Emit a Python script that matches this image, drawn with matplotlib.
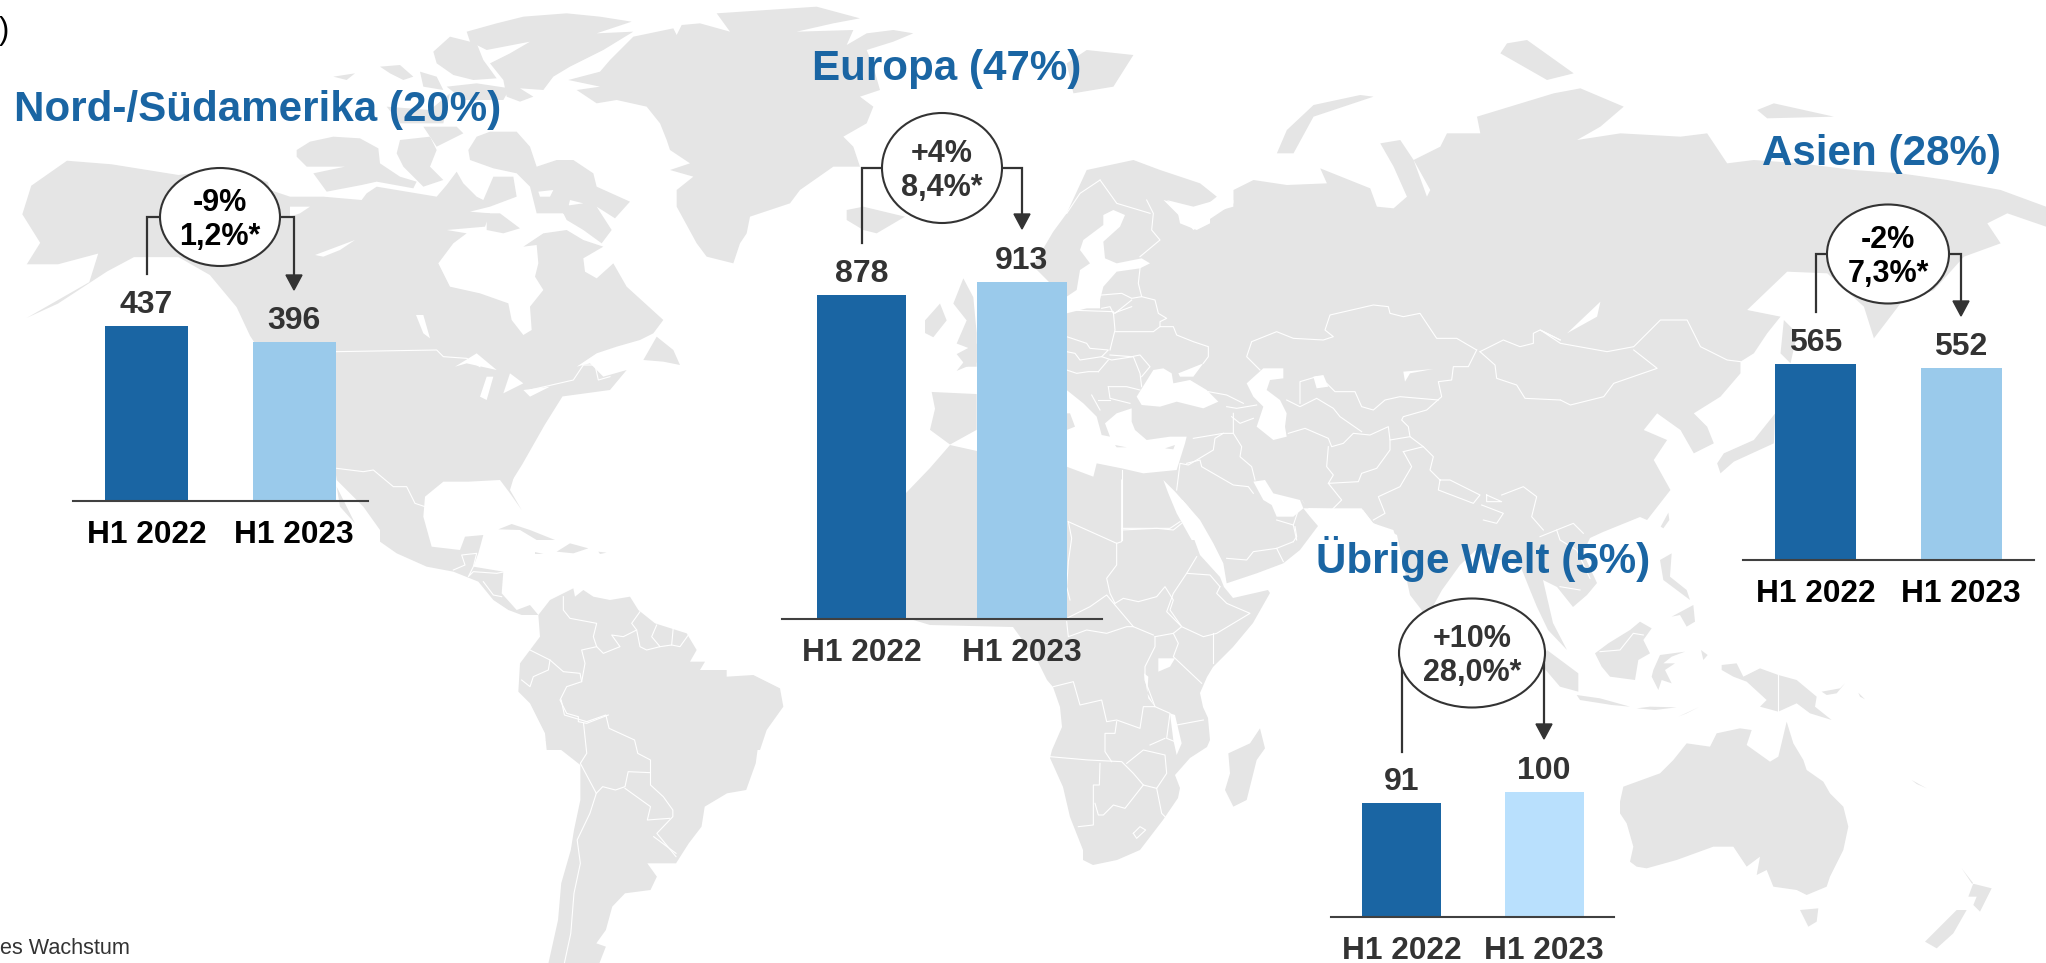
#!/usr/bin/env python3
"""Regional sales H1 2022 vs H1 2023 as four small bar charts on a world map."""
import matplotlib
matplotlib.use('Agg')
import matplotlib.pyplot as plt
from matplotlib.patches import Ellipse, Polygon

plt.rcParams['font.family'] = ['Liberation Sans', 'DejaVu Sans']

W, H = 2046, 963

# chart data
regions = ['Nord-/Südamerika (20%)', 'Europa (47%)', 'Übrige Welt (5%)', 'Asien (28%)']
periods = ['H1 2022', 'H1 2023']
values_2022 = [437, 878, 91, 565]
values_2023 = [396, 913, 100, 552]
growth = ['-9%', '+4%', '+10%', '-2%']
organic = ['1,2%*', '8,4%*', '28,0%*', '7,3%*']

# panel layout in pixels
base_y = [501, 619, 917, 560]
base_x0 = [73, 782, 1331, 1743]
base_x1 = [368, 1102, 1614, 2034]
centre_a = [146.5, 861.5, 1401.5, 1815.5]
centre_b = [294, 1022, 1544, 1961]
bar_px = [83, 89.5, 79, 81]
px_per_unit = [0.4005, 0.369, 1.253, 0.347]
title_xy = [(14, 121), (812, 80), (1316, 573), (1762, 165)]
oval_xy = [(220, 217), (942, 168), (1472, 653), (1888, 254)]
oval_wh = [(120, 98), (120, 110), (146, 109), (122, 99)]
line_start = [274, 243, 752, 312]
line_top = [217, 168, 653, 254]
arrow_tip = [290, 229, 739, 316]
light_col = ['#9ACAEB', '#9ACAEB', '#B9E0FD', '#9ACAEB']
dark_text = ['black', '#333333', '#333333', 'black']

BLUE = '#1A65A3'
GREY = '#333333'
MAP = '#E5E5E5'

# map outlines, traced by eye; each crop is (x origin, y origin, x scale, y scale)
CROPS = {
    'a': (290, 0, 3, 3),
    'b': (1060, 200, 3, 3),
    'z1': (0, 0, 2.24, 2.8),
    'z2': (760, 30, 3, 2.376),
    'z5': (0, 600, 1.568, 3),
    'z6': (1000, 0, 1.499, 3),
    'z7': (1000, 480, 3, 3),
    'z8': (1540, 500, 3, 3),
    'z9': (500, 0, 3, 3),
    'z10': (330, 450, 3, 3),
}

def crop(name, pts):
    ox, oy, sx, sy = CROPS[name]
    return [(ox + x / sx, oy + y / sy) for x, y in pts]

NORTH_AMERICA = crop('z1', [
    (50, 600), (70, 520), (150, 450), (250, 460), (400, 490), (520, 470), (600, 510)]) + crop('a', [
    (-60, 570), (0, 590), (100, 590), (215, 600), (230, 580), (260, 560), (380, 580), (440, 590), (470, 555), (500, 515),
    (520, 550), (560, 590), (580, 600), (610, 530), (670, 530), (680, 590), (600, 620), (540, 635), (600, 640), (585, 680),
    (470, 690), (530, 700), (490, 730), (445, 790), (480, 860), (570, 880), (655, 910), (665, 960), (700, 1005), (725, 990),
    (720, 920), (760, 870), (735, 830), (745, 790), (740, 735), (700, 740), (760, 700), (830, 690), (880, 720), (940, 740),
    (880, 775), (885, 815), (920, 835), (970, 790), (1010, 860), (1120, 960), (1090, 1000), (1050, 1020), (980, 1040),
    (920, 1060), (860, 1100), (900, 1090), (940, 1130), (1010, 1110), (960, 1170)]) + crop('z1', [
    (1260, 1110), (1220, 1190), (1170, 1300), (1150, 1340), (900, 1340), (750, 1310), (560, 940), (530, 860), (470, 770),
    (400, 720), (300, 720), (240, 760), (130, 850), (60, 890), (200, 790), (220, 710), (130, 740), (60, 740), (90, 680)])
CENTRAL_AMERICA = crop('z10', [
    (555, 70), (540, 120), (575, 180), (540, 130), (510, 90), (415, 95), (340, 95), (285, 140), (280, 200),
    (305, 290), (390, 300), (405, 260), (460, 255), (445, 310), (430, 350), (520, 365), (515, 430), (560, 480),
    (600, 465), (625, 495), (575, 495), (535, 480), (490, 450), (445, 395), (370, 365), (290, 350), (200, 310),
    (150, 275), (150, 240), (100, 170), (20, 90), (0, -60), (560, -60)])
BAJA = crop('z10', [(20, 110), (60, 190), (75, 220), (30, 170)])
SOUTH_AMERICA_N = crop('z10', [
    (625, 495), (660, 450), (730, 415), (735, 440), (760, 420), (790, 440), (840, 450), (900, 440), (925, 480),
    (975, 520), (1070, 550), (1100, 600), (1080, 635), (1125, 635), (1110, 660), (1190, 660), (1190, 680),
    (1270, 675), (1350, 715), (1360, 770), (1310, 840), (1290, 900), (650, 900), (645, 850), (600, 760), (565, 725),
    (570, 640), (600, 600), (630, 560)])
SOUTH_AMERICA_S = crop('z5', [
    (855, 420), (880, 450), (910, 495), (910, 600), (900, 690), (895, 750), (880, 850), (875, 960), (860, 1089),
    (940, 1089), (950, 1040), (935, 1030), (950, 990), (960, 920), (980, 880), (1020, 870), (1030, 830), (1015, 790),
    (1060, 790), (1080, 730), (1100, 680), (1105, 620), (1140, 580), (1170, 570), (1185, 490), (1190, 420)])
GREENLAND = crop('z9', [
    (205, 240), (300, 215), (330, 180), (400, 110), (520, 85), (530, 105), (545, 75), (600, 70), (690, 95), (650, 40),
    (800, 30), (950, 20), (1080, 55), (1000, 70), (890, 95), (1060, 90), (1040, 135), (1100, 100), (1180, 90),
    (1240, 100), (1180, 125), (1100, 150), (1120, 200), (1140, 270), (1080, 290), (1120, 320), (1100, 370), (1030, 410),
    (1060, 440), (1080, 500), (1000, 500), (900, 570), (870, 610), (750, 650), (740, 700), (720, 730), (700, 790),
    (620, 770), (590, 730), (530, 620), (530, 570), (580, 530), (510, 510), (570, 490), (510, 450), (500, 420),
    (480, 370), (440, 320), (350, 300), (290, 310), (230, 270), (300, 260)])
AFRICA = [
    (906, 493), (930, 468), (950, 445), (977, 451), (1067, 460), (1163, 460), (1170, 493), (1190, 528), (1200, 555),
    (1220, 577), (1224, 587), (1233, 598), (1268, 590),
    (1270, 593), (1253, 623), (1233, 647), (1213, 667), (1207, 677), (1200, 693), (1203, 707), (1208, 718), (1210, 740),
    (1207, 747), (1190, 758), (1175, 775), (1180, 788), (1178, 798), (1163, 820), (1140, 850), (1117, 860), (1093, 865),
    (1083, 860), (1083, 850), (1070, 817), (1063, 787), (1050, 758), (1052, 750), (1062, 727), (1060, 707), (1053, 687),
    (1047, 680), (1037, 660), (1013, 627), (930, 625), (880, 610), (860, 590), (820, 560), (830, 500), (870, 470)]
ARABIA = crop('z7', [
    (680, 310), (670, 250), (640, 190), (600, 120), (530, 40), (515, -20), (760, -20), (905, 60), (960, 130), (900, 210),
    (850, 250), (770, 280)])
EURASIA = crop('z6', [
    (100, 640), (130, 510), (200, 480), (240, 510), (300, 550), (325, 590), (300, 630), (245, 600), (270, 650), (290, 690),
    (320, 650), (350, 610), (350, 570), (380, 540), (430, 555), (490, 550), (480, 505), (555, 565), (565, 620), (590, 625),
    (610, 590), (590, 500), (570, 430), (600, 420), (620, 480), (640, 590), (645, 570), (620, 480), (660, 440), (670, 400),
    (720, 400), (715, 350), (830, 280), (870, 265), (935, 320), (900, 380), (865, 420), (930, 400), (1020, 410), (1060, 400),
    (1090, 490), (1130, 480), (1200, 490), (1280, 510), (1350, 520), (1420, 540), (1500, 570), (1568, 620), (1568, 680),
    (1510, 640), (1480, 670), (1500, 730), (1445, 770), (1400, 870), (1350, 910), (1310, 1015), (1295, 920), (1240, 820),
    (1180, 815), (1120, 930), (1170, 950), (1150, 1000), (1130, 1060), (1110, 1085), (1110, 1120), (1080, 1190), (1040, 1240),
    (1060, 1280), (1070, 1330), (1040, 1360), (1020, 1290), (985, 1240), (965, 1290), (1000, 1320), (980, 1380), (1005, 1470),
    (970, 1560)]) + [
    (1640, 517), (1603, 532), (1590, 538), (1583, 553), (1597, 583), (1587, 595), (1573, 607), (1557, 587), (1543, 580),
    (1553, 623), (1567, 650), (1548, 630), (1537, 607), (1530, 590), (1520, 565), (1500, 560), (1478, 548), (1460, 565),
    (1442, 590), (1427, 617), (1410, 595), (1397, 535), (1373, 523), (1363, 510), (1307, 508), (1302, 500), (1180, 500),
    (1067, 470), (1067, 293), (1050, 283), (1033, 266), (1053, 232)]
AUSTRALIA = crop('z8', [
    (240, 905), (250, 860), (360, 820), (400, 780), (440, 730), (510, 740), (530, 700), (600, 685), (635, 690), (620, 735),
    (690, 785), (715, 770), (740, 665), (760, 730), (790, 780), (800, 810), (850, 845), (870, 880), (910, 920), (925, 980),
    (910, 1050), (870, 1130), (860, 1160), (800, 1185), (770, 1170), (700, 1160), (680, 1110), (650, 1125), (660, 1070),
    (620, 1100), (580, 1040), (520, 1040), (410, 1080), (320, 1105), (290, 1100), (270, 1085), (280, 1040), (260, 970),
    (240, 940)])
MAINLAND = [NORTH_AMERICA, CENTRAL_AMERICA, BAJA, SOUTH_AMERICA_N, SOUTH_AMERICA_S, GREENLAND, AFRICA, ARABIA, EURASIA, AUSTRALIA]

WATER = [
    crop('a', [(495, 1100), (560, 1060), (620, 1110), (530, 1090)]),
    crop('a', [(570, 1190), (590, 1130), (610, 1130), (590, 1200)]),
    crop('a', [(660, 1120), (700, 1150), (640, 1180)]),
    crop('a', [(700, 1170), (780, 1160), (720, 1190)]),
    crop('a', [(75, 765), (195, 720), (150, 750), (100, 770)]),
    crop('a', [(378, 945), (400, 945), (420, 1015), (400, 1000)]),
    crop('a', [(0, 620), (60, 620), (30, 640), (0, 650)]),
    crop('b', [(20, 340), (20, 290), (50, 270), (60, 210), (90, 190), (60, 150), (70, 120), (130, 75), (130, 45), (160, 30),
               (195, 45), (180, 80), (130, 125), (135, 175), (170, 190), (245, 175), (270, 190), (240, 205), (170, 215), (130, 260),
               (120, 300), (120, 325), (80, 325)]),
    crop('b', [(320, 0), (400, 20), (470, 0), (520, 0), (520, 20), (450, 40), (450, 70), (410, 90), (360, 70), (350, 20)]),
    crop('b', [(230, 590), (280, 510), (310, 505), (335, 520), (340, 550), (390, 540), (440, 570), (475, 605), (430, 625), (350, 605),
               (300, 620), (245, 615)]),
    crop('b', [(355, 520), (430, 490), (400, 530), (360, 530)]),
    crop('b', [(560, 550), (610, 505), (670, 505), (670, 535), (630, 540), (620, 570), (660, 600), (680, 640), (675, 680), (680, 710),
               (640, 720), (590, 680), (610, 620), (580, 590)]),
    crop('b', [(760, 530), (790, 525), (805, 560), (770, 565)]),
    crop('b', [(1030, 515), (1120, 507), (1050, 520), (1035, 545)]),
    crop('b', [(20, 570), (70, 610), (110, 650), (125, 705), (150, 710), (135, 670), (170, 640), (215, 625), (215, 665), (225, 690),
               (260, 720), (330, 710), (380, 710), (375, 730), (350, 810), (250, 820), (185, 805), (110, 790), (100, 830), (20, 800),
               (20, 690), (45, 680), (30, 640), (20, 640)]),
    crop('b', [(310, 840), (345, 875), (385, 920), (425, 980), (435, 1020), (395, 1020), (350, 940), (325, 880)]),
    crop('b', [(580, 845), (615, 840), (640, 880), (720, 900), (730, 925), (700, 950), (650, 950), (635, 915), (610, 900)]),
    crop('b', [(730, 925), (905, 925), (940, 970), (1000, 990), (1010, 1020), (790, 1020), (780, 985), (750, 950)]),
    crop('z6', [(850, 1000), (900, 905), (895, 950)]),
    crop('z7', [(475, 535), (525, 535), (510, 560), (475, 575)]),
    crop('z7', [(432, 580), (445, 590), (442, 640), (465, 680), (445, 655)]),
    crop('z7', [(510, 700), (525, 705), (545, 790), (530, 825), (520, 780)]),
]

ISLANDS = [
    crop('a', [(20, 450), (60, 425), (130, 410), (210, 415), (265, 445), (270, 490), (330, 530), (380, 545), (370, 565), (260, 545),
               (215, 555), (110, 575), (70, 520), (165, 500), (50, 500), (20, 470)]),
    crop('a', [(330, 420), (420, 410), (440, 450), (420, 500), (460, 540), (400, 560), (340, 500), (320, 460)]),
    crop('a', [(530, 95), (620, 70), (700, 50), (830, 40), (930, 50), (1025, 65), (920, 100), (1030, 95), (940, 150), (840, 200),
               (790, 230), (760, 270), (690, 265), (730, 290), (690, 305), (650, 290), (640, 240), (600, 190), (660, 160), (720, 125),
               (590, 150), (540, 125)]),
    crop('a', [(430, 155), (480, 110), (560, 130), (580, 180), (620, 235), (550, 240), (490, 225), (440, 190)]),
    crop('a', [(270, 200), (330, 195), (370, 230), (340, 240), (300, 220)]),
    crop('a', [(390, 215), (440, 230), (460, 270), (400, 260)]),
    crop('a', [(130, 230), (195, 220), (170, 240)]),
    crop('a', [(470, 260), (560, 250), (660, 265), (640, 300), (520, 300)]),
    crop('a', [(290, 320), (420, 330), (480, 280), (460, 370), (330, 370)]),
    crop('a', [(400, 380), (500, 380), (520, 400), (440, 440)]),
    crop('a', [(535, 450), (560, 410), (600, 395), (680, 395), (720, 440), (740, 500), (800, 480), (850, 480), (910, 520), (920, 560),
               (1020, 605), (975, 655), (920, 620), (965, 690), (935, 730), (880, 690), (830, 660), (810, 620), (880, 610), (840, 600),
               (830, 640), (740, 640), (720, 560), (680, 520), (610, 505), (540, 480)]),
    crop('a', [(590, 640), (630, 640), (690, 685), (640, 700), (590, 690)]),
    crop('a', [(1060, 1080), (1100, 1010), (1150, 1050), (1170, 1095), (1120, 1085)]),
    crop('z10', [(505, 238), (545, 222), (600, 240), (675, 270), (620, 270), (570, 240)]),
    crop('z10', [(680, 305), (720, 280), (775, 295), (730, 310)]),
    crop('z10', [(615, 306), (640, 312), (615, 312)]),
    crop('z10', [(805, 305), (830, 308), (810, 312)]),
    crop('z9', [(1040, 630), (1090, 620), (1215, 650), (1130, 700), (1090, 690), (1040, 660)]),
    crop('z2', [(610, 590), (640, 635), (650, 720), (650, 790), (590, 810), (640, 760), (590, 745), (620, 690), (580, 650)]),
    crop('z2', [(495, 690), (540, 650), (560, 690), (520, 730), (495, 720)]),
    crop('z2', [(515, 860), (650, 865), (650, 950), (570, 985), (510, 950), (525, 900)]),
    crop('z2', [(590, 770), (650, 745), (650, 800), (620, 800)]),
    crop('z6', [(130, 150), (200, 165), (170, 260), (110, 280), (100, 190)]),
    crop('z6', [(415, 460), (440, 460), (470, 350), (560, 290), (540, 285), (470, 315), (430, 390)]),
    crop('z6', [(760, 130), (790, 120), (860, 220), (820, 240), (750, 160)]),
    crop('z6', [(1135, 330), (1160, 310), (1250, 350), (1150, 355)]),
    crop('z6', [(1175, 960), (1195, 1000), (1185, 1090), (1170, 1060)]),
    crop('z6', [(1075, 1390), (1080, 1420), (1100, 1385), (1160, 1330), (1162, 1240), (1150, 1270), (1130, 1320), (1085, 1360)]),
    crop('b', [(315, 745), (345, 735), (340, 748)]),
    crop('b', [(165, 735), (200, 742), (170, 742)]),
    crop('z7', [(780, 745), (795, 805), (770, 840), (740, 960), (700, 980), (675, 930), (690, 880), (685, 820), (750, 790)]),
    crop('z8', [(21, 450), (115, 520), (115, 575), (60, 560), (0, 490)]),
    crop('z8', [(110, 585), (180, 595), (270, 620), (215, 615), (120, 600)]),
    crop('z8', [(290, 625), (330, 620), (410, 622), (345, 630)]),
    crop('z8', [(415, 650), (475, 622), (440, 640)]),
    crop('z8', [(165, 460), (205, 430), (270, 390), (300, 365), (335, 385), (310, 420), (330, 460), (295, 480), (285, 540), (210, 530), (185, 500)]),
    crop('z8', [(340, 510), (360, 465), (435, 455), (395, 470), (370, 490), (405, 490), (375, 510), (395, 550), (365, 540), (355, 570), (335, 530)]),
    crop('z8', [(360, 180), (395, 160), (390, 230), (440, 270), (450, 300), (410, 270), (370, 240)]),
    crop('z8', [(395, 350), (460, 315), (465, 365), (440, 380), (420, 345)]),
    crop('z8', [(362, 80), (385, 38), (388, 60), (370, 85)]),
    crop('z8', [(545, 495), (590, 490), (610, 530), (660, 505), (715, 525), (770, 540), (830, 590), (825, 620), (875, 660), (810, 640),
                (770, 610), (715, 635), (660, 620), (680, 600), (620, 545), (580, 530), (545, 510)]),
    crop('z8', [(483, 450), (503, 465), (490, 480)]),
    crop('z8', [(780, 1230), (835, 1225), (830, 1265), (805, 1280)]),
    crop('z8', [(1265, 1105), (1295, 1150), (1355, 1165), (1320, 1235), (1300, 1215), (1310, 1190), (1285, 1190), (1300, 1150)]),
    crop('z8', [(1155, 1325), (1200, 1280), (1250, 1230), (1280, 1230), (1240, 1300), (1190, 1345)]),
    crop('z8', [(845, 575), (900, 565), (915, 550), (890, 580), (860, 585)]),
    crop('z8', [(955, 578), (975, 598), (960, 590)]),
    crop('z8', [(1115, 840), (1160, 865), (1130, 852)]),
]

# small holes that sit on islands, painted last
LAKES = [crop('a', [(745, 575), (790, 570), (780, 590), (750, 590)])]

BORDERS = [
    crop('a', [(138, 1055), (440, 1050), (460, 1070), (530, 1075), (570, 1100)]),
    crop('a', [(720, 1170), (850, 1140), (880, 1095), (915, 1095), (925, 1140), (960, 1130)]),
    crop('z10', [(20, 55), (100, 65), (130, 60), (190, 110), (230, 110), (255, 160), (285, 170)]),
    crop('z10', [(370, 360), (405, 345), (395, 315), (440, 310), (430, 350), (415, 380), (430, 365), (500, 370), (525, 365)]),
    crop('z10', [(460, 395), (490, 435), (515, 440)]),
    crop('z10', [(700, 440), (700, 480), (720, 505), (800, 520), (790, 560), (800, 590), (820, 610), (870, 590), (845, 555), (880, 560), (920, 540), (905, 520), (930, 485)]),
    crop('z10', [(920, 540), (930, 590), (950, 600), (990, 590), (965, 560), (980, 525)]),
    crop('z10', [(990, 590), (1025, 585), (1030, 530)]),
    crop('z10', [(1025, 585), (1050, 590), (1075, 555)]),
    crop('z10', [(800, 590), (755, 600), (765, 640), (755, 695), (710, 710), (690, 750), (710, 790), (745, 800), (745, 815), (770, 820), (835, 795)]),
    crop('z10', [(600, 600), (660, 630), (655, 660), (610, 680), (600, 710), (575, 690)]),
    crop('z10', [(660, 630), (700, 665), (750, 670), (755, 695)]),
    crop('z5', [(880, 300), (885, 345), (920, 365), (950, 345), (955, 385), (995, 420), (1000, 460), (1020, 480), (1020, 555), (1040, 590), (1055, 630), (1055, 650), (1030, 700), (1060, 770)]),
    crop('z5', [(915, 370), (920, 460), (910, 490), (935, 580), (925, 640), (905, 720), (910, 790), (900, 880), (895, 1000), (885, 1089)]),
    crop('z5', [(935, 580), (945, 560), (965, 570), (980, 560), (985, 515), (1020, 518)]),
    crop('z5', [(980, 565), (1020, 620), (1015, 660), (1050, 655)]),
    crop('z5', [(1025, 710), (1060, 760)]),
    crop('z7', [(205, 125), (350, 190), (365, 185), (365, 0)]),
    crop('z7', [(365, 150), (470, 145), (520, 150), (545, 130)]),
    crop('z7', [(350, 190), (350, 255), (320, 295), (330, 340), (345, 370)]),
    crop('z7', [(205, 125), (215, 175), (205, 245), (200, 320), (210, 360)]),
    crop('z7', [(200, 415), (270, 380), (320, 345), (345, 375), (400, 440), (460, 465)]),
    crop('z7', [(345, 370), (370, 355), (415, 365), (470, 350), (495, 320), (520, 360), (510, 390), (545, 440), (520, 460), (465, 470)]),
    crop('z7', [(590, 230), (560, 280), (520, 340), (500, 395), (545, 440), (610, 470), (650, 460), (750, 400), (680, 370), (650, 340), (660, 320)]),
    crop('z7', [(560, 280), (630, 285), (660, 320)]),
    crop('z7', [(200, 425), (205, 470), (260, 450), (320, 460), (380, 440), (400, 440)]),
    crop('z7', [(465, 470), (465, 500), (435, 560), (435, 600), (465, 680)]),
    crop('z7', [(520, 460), (535, 490), (520, 530), (605, 610)]),
    crop('z7', [(640, 460), (640, 550)]),
    crop('z7', [(160, 620), (220, 605), (230, 640), (240, 675), (305, 660), (320, 725), (350, 720), (420, 745), (430, 680), (465, 680), (510, 700), (500, 775), (525, 785)]),
    crop('z7', [(350, 725), (345, 760), (315, 760), (315, 815), (335, 845)]),
    crop('z7', [(150, 830), (265, 840), (365, 845), (400, 880), (430, 915), (470, 925), (500, 880), (495, 825), (430, 810), (380, 850)]),
    crop('z7', [(300, 850), (298, 915), (280, 915), (280, 1035), (235, 1040)]),
    crop('z7', [(285, 970), (295, 1005), (310, 1005), (340, 975), (375, 985), (430, 915)]),
    crop('z7', [(470, 925), (485, 1000), (495, 1010)]),
    crop('z7', [(530, 735), (610, 720)]),
    crop('z7', [(450, 795), (495, 775)]),
    crop('z7', [(400, 1060), (420, 1040), (437, 1050), (410, 1075), (400, 1060)]),
    crop('z7', [(880, 185), (830, 205), (760, 215), (740, 240), (680, 235)]),
    crop('z7', [(830, 205), (850, 245)]),
    crop('z7', [(885, 140), (890, 170), (880, 185)]),
    crop('b', [(260, 0), (280, 40), (275, 90), (300, 120), (240, 170)]),
    crop('b', [(240, 205), (235, 250), (245, 290), (285, 300), (295, 340), (320, 355), (300, 365), (300, 380), (340, 380), (350, 405), (400, 425), (445, 440), (445, 470), (430, 490)]),
    crop('b', [(125, 285), (185, 280), (215, 295), (245, 290)]),
    crop('b', [(125, 325), (150, 320), (160, 340), (215, 320)]),
    crop('b', [(20, 330), (160, 335), (165, 390), (150, 450)]),
    crop('b', [(165, 395), (280, 395), (300, 380)]),
    crop('b', [(150, 465), (215, 470), (240, 465), (270, 500), (245, 530)]),
    crop('b', [(165, 340), (215, 300)]),
    crop('b', [(20, 410), (80, 430), (90, 445), (145, 450), (125, 470), (60, 480), (45, 460), (20, 455)]),
    crop('b', [(125, 470), (155, 480), (220, 470), (240, 520), (245, 560)]),
    crop('b', [(115, 515), (145, 480)]),
    crop('b', [(115, 515), (85, 515), (50, 520), (20, 510)]),
    crop('b', [(145, 560), (200, 560), (240, 570)]),
    crop('b', [(145, 560), (150, 595), (210, 610)]),
    crop('b', [(115, 600), (150, 600)]),
    crop('b', [(95, 585), (120, 630)]),
    crop('b', [(445, 575), (500, 585), (550, 610)]),
    crop('b', [(500, 620), (530, 625), (560, 620), (590, 615)]),
    crop('b', [(515, 650), (540, 670), (580, 655)]),
    crop('b', [(520, 640), (520, 700), (490, 700), (400, 715)]),
    crop('b', [(490, 700), (465, 715), (460, 750), (385, 795), (360, 790), (350, 870)]),
    crop('b', [(380, 790), (420, 780), (425, 800), (520, 855), (565, 860), (580, 880)]),
    crop('b', [(520, 700), (545, 740), (540, 770), (575, 800), (585, 840)]),
    crop('b', [(600, 510), (560, 470), (575, 425), (650, 395), (700, 415), (790, 420), (820, 410), (795, 390), (810, 345), (940, 315), (985, 320), (990, 340), (1030, 350), (1080, 340), (1130, 415), (1190, 415), (1250, 450)]),
    crop('b', [(1250, 450), (1225, 500), (1180, 500), (1175, 540), (1135, 545), (1145, 590), (1100, 630), (1030, 650), (1025, 660), (1045, 680), (1050, 710), (1090, 740)]),
    crop('b', [(720, 610), (720, 545), (770, 530)]),
    crop('b', [(800, 550), (825, 575), (885, 575), (905, 620), (940, 630), (975, 600), (1020, 590), (1135, 600)]),
    crop('b', [(680, 600), (720, 620), (770, 595), (820, 625), (840, 650), (905, 695)]),
    crop('b', [(685, 700), (735, 685), (805, 715), (815, 740), (850, 730), (880, 700), (930, 705), (985, 680), (990, 720), (1050, 710)]),
    crop('b', [(805, 740), (800, 800), (820, 825), (805, 850), (895, 845), (905, 820), (950, 805), (990, 750), (990, 720)]),
    crop('b', [(805, 850), (845, 900), (815, 930)]),
    crop('b', [(1030, 755), (1055, 800), (1020, 860), (955, 890), (975, 940), (940, 960)]),
    crop('b', [(1030, 755), (1090, 740), (1120, 770), (1110, 810), (1140, 840), (1170, 840), (1260, 885), (1240, 910), (1135, 870), (1140, 840)]),
    crop('b', [(1280, 885), (1325, 905), (1280, 905), (1280, 885)]),
    crop('b', [(1325, 885), (1390, 860), (1430, 890), (1415, 950), (1450, 990)]),
    crop('b', [(1265, 915), (1330, 940), (1310, 970), (1270, 960)]),
    crop('b', [(1260, 455), (1330, 420), (1380, 440), (1420, 430), (1420, 400), (1440, 390), (1500, 420)]),
    crop('b', [(1260, 455), (1305, 495), (1310, 535), (1370, 555), (1395, 595), (1500, 600)]),
    crop('b', [(650, 960), (700, 975), (710, 1020)]),
    crop('b', [(720, 915), (700, 975)]),
    crop('b', [(185, 810), (185, 1020)]),
    crop('b', [(185, 985), (330, 985), (360, 965)]),
    crop('z6', [(840, 1020), (810, 990), (840, 1030), (910, 1055), (950, 1040), (990, 960), (1030, 960), (1050, 1040), (1090, 1080), (1110, 1085)]),
    crop('z6', [(950, 1050), (985, 1105), (920, 1150), (905, 1190), (855, 1215), (840, 1200)]),
    crop('z6', [(150, 540), (175, 610), (225, 640)]),
    crop('z6', [(100, 640), (120, 580), (150, 540)]),
    crop('z8', [(0, 110), (50, 90), (100, 70), (130, 100)]),
    crop('z8', [(50, 90), (60, 120), (110, 150), (150, 235)]),
    crop('z8', [(60, 260), (120, 270)]),
    crop('z8', [(180, 455), (240, 450), (280, 400), (310, 405)]),
    crop('z8', [(715, 525), (715, 635)]),
]

fig = plt.figure(figsize=(W / 100, H / 100), dpi=100, facecolor='white')

# background map and annotation layer work in image pixels
bg = fig.add_axes([0, 0, 1, 1])
bg.set_xlim(0, W)
bg.set_ylim(H, 0)
bg.axis('off')

for shape in MAINLAND:
    bg.add_patch(Polygon(shape, closed=True, facecolor=MAP, edgecolor='none', zorder=1))
for shape in WATER:
    bg.add_patch(Polygon(shape, closed=True, facecolor='white', edgecolor='none', zorder=2))
for shape in ISLANDS:
    bg.add_patch(Polygon(shape, closed=True, facecolor=MAP, edgecolor='none', zorder=3))
for shape in LAKES:
    bg.add_patch(Polygon(shape, closed=True, facecolor='white', edgecolor='none', zorder=3.5))
for line in BORDERS:
    bg.plot([p[0] for p in line], [p[1] for p in line], color='white', lw=0.8, zorder=4)

for i, region in enumerate(regions):
    # one small bar chart per region, scaled by its own px per unit
    x0, x1 = base_x0[i], base_x1[i]
    step = centre_b[i] - centre_a[i]
    ymax = max(values_2022[i], values_2023[i]) * 1.05
    ax = fig.add_axes([x0 / W, 1 - base_y[i] / H, (x1 - x0) / W, ymax * px_per_unit[i] / H])
    ax.patch.set_alpha(0)
    ax.set_xlim((x0 - centre_a[i]) / step, (x1 - centre_a[i]) / step)
    ax.set_ylim(0, ymax)
    vals = [values_2022[i], values_2023[i]]
    ax.bar([0, 1], vals, bar_px[i] / step, color=[BLUE, light_col[i]])
    for j, v in enumerate(vals):
        ax.annotate(str(v), (j, v), xytext=(0, 9.4), textcoords='offset points', ha='center', va='baseline',
                    fontsize=23, fontweight='bold', color=GREY)
    ax.set_xticks([0, 1])
    ax.set_xticklabels(periods, fontsize=22.8, fontweight='bold', color=dark_text[i])
    ax.set_yticks([])
    ax.tick_params(axis='x', length=0, pad=13.5)
    for side in ['top', 'left', 'right']:
        ax.spines[side].set_visible(False)
    ax.spines['bottom'].set_color('#404040')
    ax.spines['bottom'].set_linewidth(1.5)

    bg.text(title_xy[i][0], title_xy[i][1], region, fontsize=30.3, fontweight='bold', color=BLUE, ha='left', va='baseline', zorder=6)

    # growth bubble with the connector from the first bar to the second
    lx, rx = centre_a[i], centre_b[i]
    top = line_top[i]
    bg.plot([lx, lx, rx, rx], [line_start[i], top, top, arrow_tip[i] - 10], color=GREY, lw=1.6, zorder=5, solid_joinstyle='miter')
    tip = arrow_tip[i]
    bg.fill([rx - 8, rx + 8, rx], [tip - 15, tip - 15, tip], color=GREY, zorder=5)
    bg.add_patch(Ellipse(oval_xy[i], oval_wh[i][0], oval_wh[i][1], facecolor='white', edgecolor=GREY, lw=1.5, zorder=6))
    bg.text(oval_xy[i][0], oval_xy[i][1] + 3, growth[i] + '\n' + organic[i], fontsize=22, fontweight='bold', color=dark_text[i],
            ha='center', va='center', linespacing=1.18, zorder=7)

# pieces of the slide's text that are cut off at the left edge
bg.text(-1, 31, ')', fontsize=22, color='black', ha='left', va='center', zorder=7)
bg.text(0, 948, 'es Wachstum', fontsize=15.6, color=GREY, ha='left', va='center', zorder=7)

fig.savefig('out.png', dpi=100, facecolor='white')
plt.close(fig)
